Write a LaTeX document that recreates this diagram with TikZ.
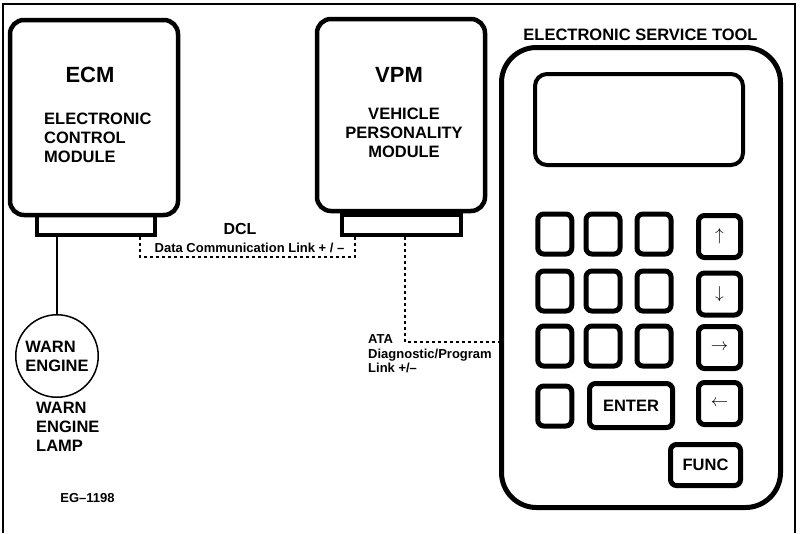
\documentclass[tikz,border=0pt]{standalone}
\usepackage{fontspec}
\setmainfont{Liberation Sans}
\usetikzlibrary{positioning}

\begin{document}
\begin{tikzpicture}[x=1pt,y=-1pt,
  module/.style={draw,line width=4.5pt,rounded corners=14pt,fill=white,inner sep=0pt,minimum width=168pt},
  plug/.style={draw,line width=4pt,minimum height=20pt,inner sep=0pt},
  key/.style={draw,line width=5pt,rounded corners=6pt,minimum width=34pt,minimum height=40pt,inner sep=0pt},
  arrkey/.style={key,minimum width=42pt,minimum height=42pt,font=\fontsize{17}{18}\selectfont},
  link/.style={line width=1.3pt,dash pattern=on 3pt off 3pt},
  big/.style={font=\fontsize{22}{24}\selectfont\bfseries},
  txt/.style={font=\fontsize{16.5}{19}\selectfont\bfseries,align=left,inner sep=0pt},
  small/.style={font=\fontsize{13}{14.5}\selectfont\bfseries,align=left,inner sep=0pt}]
\useasboundingbox (0,0) rectangle (800,533);
\draw[line width=1.5pt](3,533)--(3,4)--(795,4)--(795,533);
% modules and plugs
\node[plug,minimum width=118pt](ecmplug) at (96,225){};
\node[plug,minimum width=119pt](vpmplug) at (401.5,225){};
\node[module,minimum height=195pt](ecm) at (94,117.5){};
\node[module,minimum height=192pt](vpm) at (401,115){};
\node[big](ecmname) at (90,75){ECM};
\node[txt,anchor=west](ecmtext) at (44,138){ELECTRONIC\\CONTROL\\MODULE};
\node[big](vpmname) at (399,75){VPM};
\node[txt,align=center](vpmtext) at (404,133){VEHICLE\\PERSONALITY\\MODULE};
% lamp
\node[draw,circle,line width=1.5pt,minimum size=82.5pt,txt,inner sep=2pt](lamp) at (57,356){WARN\\ENGINE};
\draw[line width=1.5pt](lamp.north |- ecmplug.south)--(lamp.north);
\node[txt,anchor=west](lamptext) at (36,427){WARN\\ENGINE\\LAMP};
\node[small](figno) at (87.5,498){EG--1198};
% links
\coordinate (d1) at (140,257);
\coordinate (d2) at (355,257);
\draw[link](ecmplug.south -| d1)--(d1)--(d2)--(vpmplug.south -| d2);
\node[font=\fontsize{16}{18}\selectfont\bfseries](dcl) at (240,229){DCL};
\node[small](dcltext) at (249.5,248){Data Communication Link + / --};
% service tool
\node[draw,line width=5pt,rounded corners=35pt,minimum width=279pt,minimum height=460pt](est) at (641,277.5){};
\node[txt](esttext) at (640.5,35){ELECTRONIC SERVICE TOOL};
\node[draw,line width=4pt,rounded corners=12pt,minimum width=208pt,minimum height=91pt](screen) at (639,119.5){};
\coordinate (a1) at (405,342);
\draw[link](vpmplug.south -| a1)--(a1)--(a1 -| est.west);
\node[small,anchor=west](atatext) at (368,354){ATA\\Diagnostic/Program\\Link +/--};
% keys
\foreach \x/\c in {554.75/1,603/2,654/3}{
  \foreach \y/\r in {234/1,291/2,346/3}{
    \node[key](k\r\c) at (\x,\y){};
  }
}
\node[key](k41) at (554.75,406){};
\node[key,minimum width=83pt,minimum height=44pt,txt](enter) at (631,405.5){ENTER};
\foreach \y/\a/\n in {236.5/\uparrow/up,294/\downarrow/down,347.5/\rightarrow/right,403.5/\leftarrow/left}
  \node[arrkey](\n) at (719.5,\y){$\a$};
\node[key,minimum width=70pt,minimum height=41pt,txt](func) at (705.5,465){FUNC};
\end{tikzpicture}
\end{document}
